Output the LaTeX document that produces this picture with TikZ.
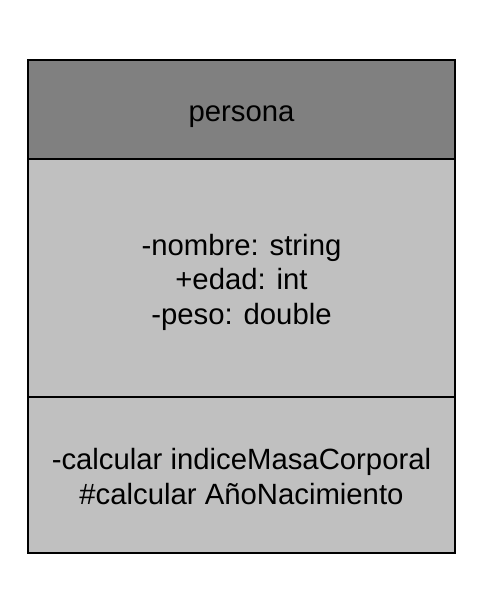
\documentclass[tikz,border=0pt]{standalone}
\usepackage{fontspec}
\setmainfont{Liberation Sans}
\definecolor{headgray}{RGB}{128,128,128}
\definecolor{bodygray}{RGB}{192,192,192}
\begin{document}
\begin{tikzpicture}[x=1pt,y=-1pt,
  part/.style={draw=black,line width=1.6pt,minimum width=427pt,inner sep=0pt},
  label/.style={font=\fontsize{29.3}{34.5}\selectfont,align=center,anchor=base,text=black,inner sep=0pt}]
\useasboundingbox (0,0) rectangle (484,590);
\node[part,fill=bodygray,minimum height=238pt] (attrs) at (241.5,278) {};
\node[part,fill=bodygray,minimum height=156pt] (meths) at (241.5,475) {};
\node[part,fill=headgray,minimum height=99pt] (head) at (241.5,109.5) {};
\node[label] (headtxt) at (241.5,121) {persona};
\node[label] (attrtxt) at (241.5,324) {-nombre: string\\+edad: int\\-peso: double};
\node[label] (methtxt) at (241.5,504) {-calcular indiceMasaCorporal\\\#calcular AñoNacimiento};
\end{tikzpicture}
\end{document}
